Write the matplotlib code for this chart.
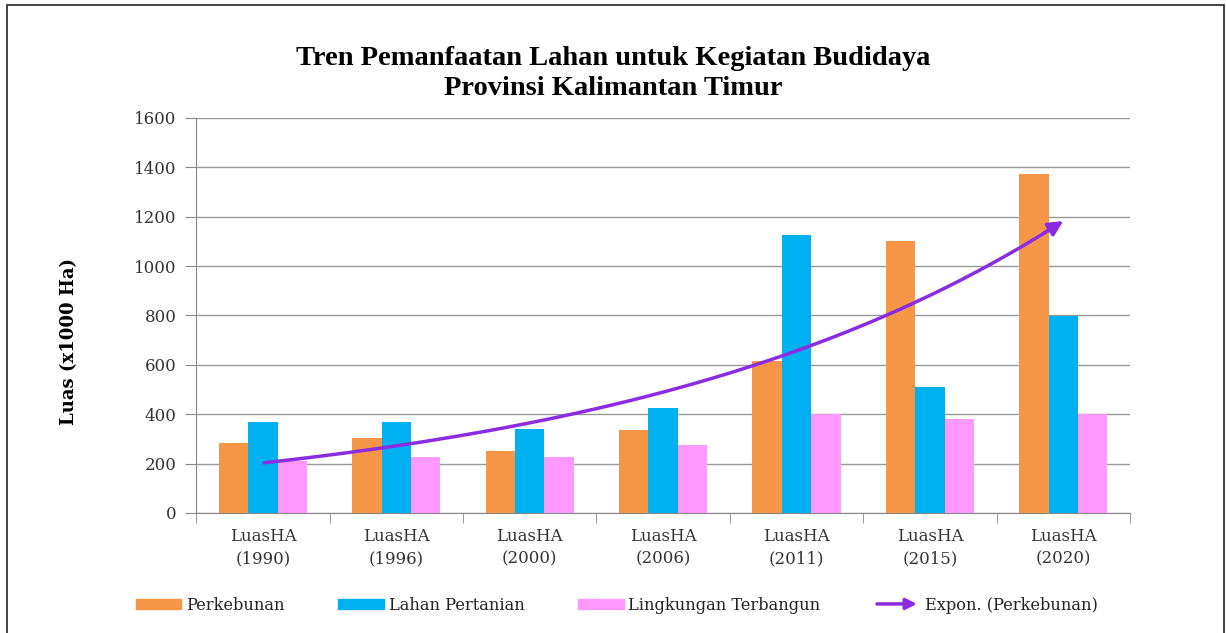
import numpy as np
import matplotlib
matplotlib.use("Agg")
import matplotlib.pyplot as plt
from matplotlib.patches import Patch, FancyArrowPatch, Rectangle
from matplotlib.lines import Line2D
from matplotlib.legend_handler import HandlerBase

# ===================== data =====================
years = ["1990", "1996", "2000", "2006", "2011", "2015", "2020"]
labels = [f"LuasHA\n({y})" for y in years]
perkebunan = [282, 302, 252, 337, 616, 1103, 1372]
lahan_pertanian = [367, 368, 340, 427, 1127, 512, 799]
lingkungan_terbangun = [210, 225, 225, 274, 400, 382, 400]

C_ORANGE = "#F79646"
C_BLUE = "#00B0F0"
C_PINK = "#FF99FF"
C_PURPLE = "#8B2BE2"
SERIF = "DejaVu Serif"

plt.rcParams["font.family"] = SERIF


class ArrowHandler(HandlerBase):
    def create_artists(self, legend, orig_handle, xdescent, ydescent,
                       width, height, fontsize, trans):
        y = height / 2 - ydescent
        a = FancyArrowPatch((-xdescent, y), (width - xdescent, y),
                            arrowstyle="-|>", mutation_scale=16,
                            color=C_PURPLE, lw=2.5, transform=trans)
        return [a]


fig = plt.figure(figsize=(12.26, 6.33), dpi=100)
ax = fig.add_axes([0.160, 0.1896, 0.7617, 0.624])

# outer frame
fig.patches.append(Rectangle((7 / 1226, -0.05), 1217 / 1226, 1.05 - 5 / 633,
                             transform=fig.transFigure, fill=False,
                             edgecolor="#222222", lw=1.2))

x = np.arange(len(years))
w = 0.22
ax.bar(x - w, perkebunan, w, color=C_ORANGE, zorder=2)
ax.bar(x, lahan_pertanian, w, color=C_BLUE, zorder=2)
ax.bar(x + w, lingkungan_terbangun, w, color=C_PINK, zorder=2)

# exponential trendline of Perkebunan
b, a = np.polyfit(x + 1, np.log(perkebunan), 1)
xs = np.linspace(0, 5.93, 200)
ax.plot(xs, np.exp(a + b * (xs + 1)), color=C_PURPLE, lw=2.5, zorder=3,
        solid_capstyle="butt")
x_end = 6.0
ax.annotate("", xy=(x_end, np.exp(a + b * (x_end + 1))),
            xytext=(5.85, np.exp(a + b * 6.85)),
            arrowprops=dict(arrowstyle="-|>", color=C_PURPLE, lw=2.5,
                            mutation_scale=22, shrinkA=0, shrinkB=0),
            zorder=4)

ax.set_xlim(-0.5, len(years) - 0.5)
ax.set_ylim(0, 1600)
ax.set_yticks(np.arange(0, 1601, 200))
ax.set_xticks(x)
ax.set_xticklabels(labels, linespacing=1.4)
ax.set_xticks(np.arange(-0.5, len(years), 1), minor=True)
ax.tick_params(axis="x", which="major", length=0, pad=11,
               labelsize=12, labelcolor="#333333")
ax.tick_params(axis="x", which="minor", length=7, color="#888888")
ax.tick_params(axis="y", length=8, color="#888888", labelsize=12,
               labelcolor="#333333", pad=6)
ax.grid(axis="y", color="#999999", lw=1, zorder=0)
for s in ["top", "right"]:
    ax.spines[s].set_visible(False)
for s in ["left", "bottom"]:
    ax.spines[s].set_color("#888888")

ax.set_ylabel("Luas (x1000 Ha)", fontsize=13, fontweight="bold")
ax.yaxis.set_label_coords(-0.126, 0.435)

fig.text(0.5, 0.908, "Tren Pemanfaatan Lahan untuk Kegiatan Budidaya",
         ha="center", va="center", fontsize=20.5, fontweight="bold",
         family="Liberation Serif")
fig.text(0.5, 0.86, "Provinsi Kalimantan Timur",
         ha="center", va="center", fontsize=20.5, fontweight="bold",
         family="Liberation Serif")

handles = [Patch(color=C_ORANGE), Patch(color=C_BLUE), Patch(color=C_PINK),
           Line2D([], [], color=C_PURPLE)]
names = ["Perkebunan", "Lahan Pertanian", "Lingkungan Terbangun",
         "Expon. (Perkebunan)"]
fig.legend(handles, names, loc="center", bbox_to_anchor=(0.503, 0.044),
           ncol=4, frameon=False, fontsize=11.7, handlelength=2.8,
           handleheight=0.6, handletextpad=0.3, columnspacing=3.3,
           handler_map={Line2D: ArrowHandler()}, labelcolor="#222222")

fig.savefig("out.png", dpi=100, facecolor="white")
